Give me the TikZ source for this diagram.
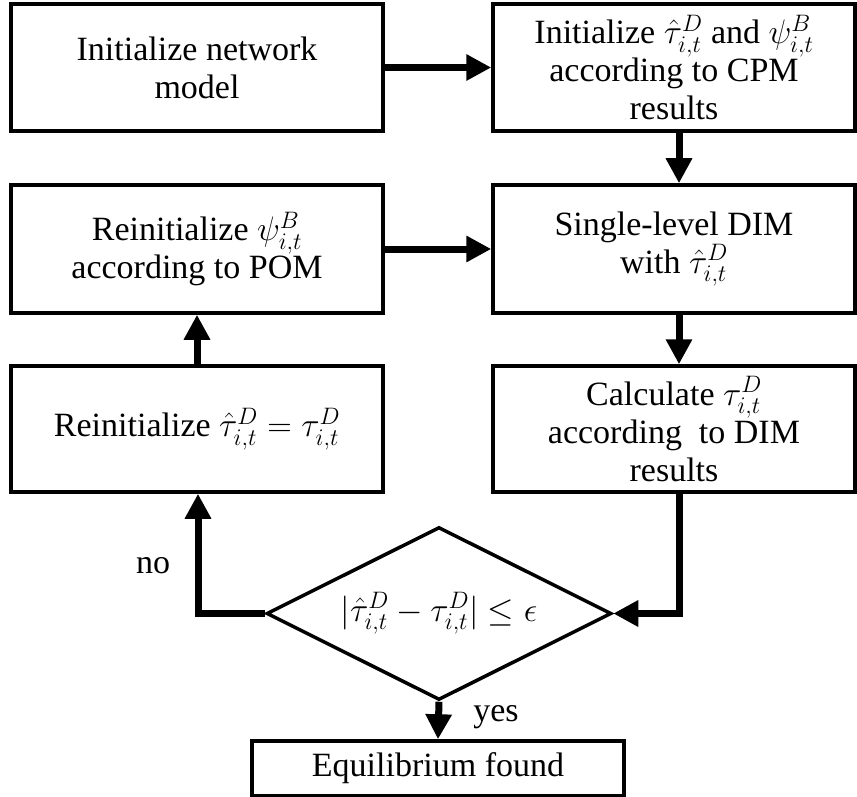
\RequirePackage{fix-cm}
\documentclass[tikz,border=0pt]{standalone}
\usepackage{fontspec}
\setmainfont{Liberation Serif}
\usetikzlibrary{arrows.meta,shapes.geometric}

\tikzset{
  box/.style={draw, line width=3.5pt, rectangle, inner sep=0pt, align=center,
    font=\fontsize{34}{38}\selectfont},
  decision/.style={draw, line width=3.5pt, diamond, aspect=2, inner sep=0pt,
    minimum width=345pt, minimum height=173pt, font=\fontsize{34}{38}\selectfont},
  flow/.style={line width=7pt, -{Triangle[length=25pt,width=25pt]}},
  tag/.style={inner sep=0pt, font=\fontsize{34}{38}\selectfont},
}

\begin{document}
\begin{tikzpicture}[x=1pt, y=-1pt]
\useasboundingbox (0,0) rectangle (857,797);

% process boxes
\node[box, minimum width=372pt, minimum height=127pt] (init) at (197,67.5)
  {Initialize network\\model};
\node[box, minimum width=362pt, minimum height=127pt] (initcpm) at (674,67.5)
  {Initialize $\hat{\tau}^D_{i,t}$ and $\psi^B_{i,t}$\\according to CPM\\results};
\node[box, minimum width=372pt, minimum height=128pt] (repsi) at (197,249)
  {Reinitialize $\psi^B_{i,t}$\\according to POM};
\node[box, minimum width=362pt, minimum height=128pt] (dim) at (674,249)
  {Single-level DIM\\with $\hat{\tau}^D_{i,t}$};
\node[box, minimum width=372pt, minimum height=126pt] (retau) at (197,429)
  {Reinitialize $\hat{\tau}^D_{i,t}=\tau^D_{i,t}$};
\node[box, minimum width=362pt, minimum height=126pt] (calc) at (674,429)
  {Calculate $\tau^D_{i,t}$\\according\ \ to DIM\\results};

% convergence test and result
\node[decision] (check) at (439,613.5)
  {$|\hat{\tau}^D_{i,t}-\tau^D_{i,t}|\le\epsilon$};
\node[box, minimum width=372pt, minimum height=55pt] (eq) at (438,768.5)
  {Equilibrium found};

% branch labels
\node[tag, anchor=base] (nolab) at (153,573) {no};
\node[tag, anchor=base] (yeslab) at (496,721) {yes};

% connectors
\draw[flow] (init.east) -- (initcpm.west);
\draw[flow] ([xshift=5pt]initcpm.south) -- ([xshift=5pt]dim.north);
\draw[flow] ([xshift=5pt]dim.south) -- ([xshift=5pt]calc.north);
\draw[flow] ([xshift=5pt]calc.south) |- (check.east);
\draw[flow] (check.west) -| ([xshift=1pt]retau.south);
\draw[flow] (retau.north) -- (repsi.south);
\draw[flow] (repsi.east) -- (dim.west);
\draw[flow] (check.south) -- (eq.north);
\end{tikzpicture}
\end{document}
